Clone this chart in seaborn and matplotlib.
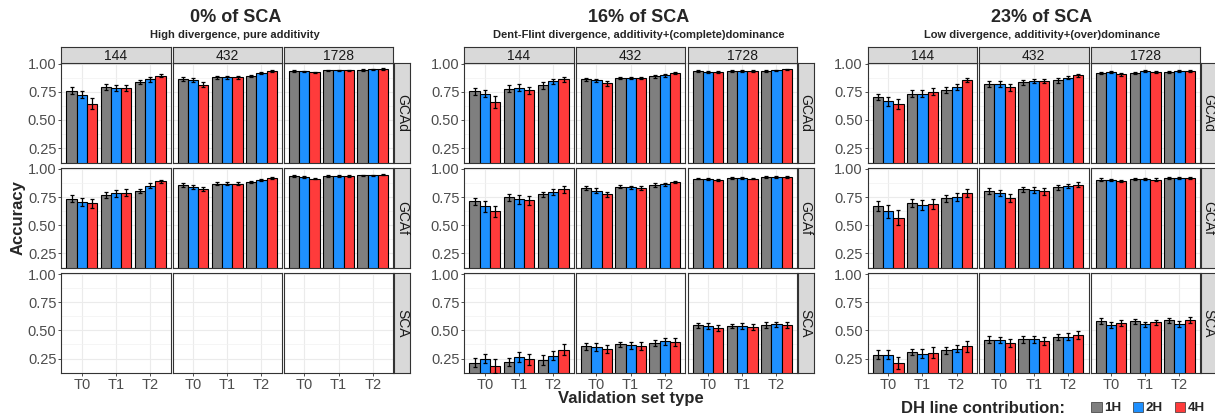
import numpy as np
import pandas as pd
import matplotlib
matplotlib.use("Agg")
import matplotlib.pyplot as plt
from matplotlib.patches import Patch
import seaborn as sns

scenarios = ["0% of SCA", "16% of SCA", "23% of SCA"]
subtitles = ["High divergence, pure additivity",
             "Dent-Flint divergence, additivity+(complete)dominance",
             "Low divergence, additivity+(over)dominance"]
traits = ["GCAd", "GCAf", "SCA"]
sizes = ["144", "432", "1728"]
val_types = ["T0", "T1", "T2"]
dh_levels = ["1H", "2H", "4H"]
dh_colors = ["#7f7f7f", "#1e90ff", "#ff3b3b"]

# accuracy, order: size (144, 432, 1728) -> validation type -> DH
acc_0_gcad = [0.759, 0.726, 0.646, 0.795, 0.786, 0.783, 0.836, 0.860, 0.893,
              0.863, 0.851, 0.815, 0.878, 0.878, 0.878, 0.893, 0.914, 0.932,
              0.935, 0.932, 0.923, 0.940, 0.940, 0.940, 0.946, 0.949, 0.955]
acc_0_gcaf = [0.735, 0.702, 0.693, 0.768, 0.783, 0.789, 0.804, 0.851, 0.890,
              0.857, 0.842, 0.824, 0.869, 0.869, 0.869, 0.881, 0.899, 0.920,
              0.935, 0.929, 0.914, 0.938, 0.938, 0.935, 0.943, 0.943, 0.949]
acc_0_sca = [np.nan] * 27
acc_16_gcad = [0.753, 0.735, 0.661, 0.777, 0.786, 0.762, 0.807, 0.842, 0.860,
               0.860, 0.851, 0.824, 0.872, 0.872, 0.872, 0.887, 0.896, 0.920,
               0.932, 0.929, 0.926, 0.935, 0.932, 0.935, 0.938, 0.940, 0.949]
acc_16_gcaf = [0.711, 0.667, 0.622, 0.747, 0.732, 0.720, 0.774, 0.795, 0.818,
               0.830, 0.807, 0.774, 0.842, 0.836, 0.830, 0.857, 0.863, 0.881,
               0.914, 0.908, 0.899, 0.920, 0.917, 0.914, 0.926, 0.926, 0.929]
acc_16_sca = [0.213, 0.246, 0.183, 0.222, 0.264, 0.243, 0.237, 0.273, 0.330,
              0.360, 0.351, 0.336, 0.375, 0.366, 0.360, 0.387, 0.402, 0.399,
              0.544, 0.538, 0.520, 0.541, 0.541, 0.529, 0.547, 0.553, 0.550]
acc_23_gcad = [0.705, 0.667, 0.640, 0.732, 0.735, 0.750, 0.765, 0.792, 0.857,
               0.821, 0.821, 0.789, 0.833, 0.848, 0.845, 0.851, 0.875, 0.896,
               0.917, 0.923, 0.905, 0.920, 0.932, 0.923, 0.926, 0.935, 0.935]
acc_23_gcaf = [0.673, 0.622, 0.568, 0.699, 0.682, 0.688, 0.738, 0.747, 0.783,
               0.801, 0.786, 0.744, 0.818, 0.812, 0.801, 0.836, 0.848, 0.860,
               0.905, 0.899, 0.890, 0.911, 0.911, 0.905, 0.917, 0.920, 0.920]
acc_23_sca = [0.282, 0.282, 0.210, 0.309, 0.294, 0.303, 0.324, 0.339, 0.357,
              0.417, 0.414, 0.387, 0.420, 0.420, 0.405, 0.441, 0.444, 0.456,
              0.583, 0.547, 0.565, 0.580, 0.553, 0.571, 0.589, 0.559, 0.592]

# error bar half widths, same order
err_0_gcad = [0.030, 0.028, 0.045, 0.025, 0.025, 0.025, 0.015, 0.020, 0.015,
              0.015, 0.018, 0.020, 0.012, 0.012, 0.012, 0.010, 0.010, 0.010,
              0.007, 0.007, 0.007, 0.007, 0.007, 0.007, 0.007, 0.007, 0.007]
err_0_gcaf = [0.030, 0.035, 0.040, 0.025, 0.030, 0.030, 0.020, 0.020, 0.015,
              0.015, 0.018, 0.018, 0.012, 0.012, 0.012, 0.010, 0.010, 0.010,
              0.007, 0.007, 0.007, 0.007, 0.007, 0.007, 0.007, 0.007, 0.007]
err_0_sca = [np.nan] * 27
err_16_gcad = [0.030, 0.035, 0.055, 0.030, 0.030, 0.035, 0.030, 0.025, 0.025,
               0.015, 0.015, 0.020, 0.012, 0.012, 0.012, 0.010, 0.010, 0.010,
               0.008, 0.008, 0.008, 0.008, 0.008, 0.008, 0.008, 0.008, 0.008]
err_16_gcaf = [0.030, 0.050, 0.050, 0.030, 0.040, 0.040, 0.025, 0.030, 0.030,
               0.015, 0.020, 0.025, 0.015, 0.015, 0.015, 0.015, 0.015, 0.010,
               0.008, 0.008, 0.008, 0.008, 0.008, 0.008, 0.008, 0.008, 0.008]
err_16_sca = [0.040, 0.040, 0.060, 0.035, 0.045, 0.050, 0.040, 0.040, 0.050,
              0.030, 0.035, 0.035, 0.025, 0.035, 0.035, 0.025, 0.030, 0.035,
              0.020, 0.025, 0.025, 0.020, 0.025, 0.025, 0.025, 0.025, 0.025]
err_23_gcad = [0.030, 0.040, 0.045, 0.030, 0.030, 0.030, 0.025, 0.030, 0.020,
               0.025, 0.025, 0.030, 0.025, 0.020, 0.020, 0.025, 0.015, 0.010,
               0.010, 0.010, 0.010, 0.010, 0.010, 0.010, 0.010, 0.010, 0.010]
err_23_gcaf = [0.045, 0.055, 0.070, 0.035, 0.045, 0.045, 0.030, 0.035, 0.035,
               0.025, 0.030, 0.035, 0.020, 0.025, 0.030, 0.020, 0.020, 0.020,
               0.010, 0.010, 0.010, 0.010, 0.010, 0.010, 0.010, 0.010, 0.010]
err_23_sca = [0.040, 0.040, 0.050, 0.030, 0.040, 0.045, 0.030, 0.035, 0.045,
              0.030, 0.030, 0.035, 0.030, 0.030, 0.035, 0.030, 0.030, 0.035,
              0.025, 0.025, 0.025, 0.025, 0.025, 0.025, 0.025, 0.025, 0.025]

acc = {(scenarios[0], "GCAd"): (acc_0_gcad, err_0_gcad),
       (scenarios[0], "GCAf"): (acc_0_gcaf, err_0_gcaf),
       (scenarios[0], "SCA"): (acc_0_sca, err_0_sca),
       (scenarios[1], "GCAd"): (acc_16_gcad, err_16_gcad),
       (scenarios[1], "GCAf"): (acc_16_gcaf, err_16_gcaf),
       (scenarios[1], "SCA"): (acc_16_sca, err_16_sca),
       (scenarios[2], "GCAd"): (acc_23_gcad, err_23_gcad),
       (scenarios[2], "GCAf"): (acc_23_gcaf, err_23_gcaf),
       (scenarios[2], "SCA"): (acc_23_sca, err_23_sca)}

rows = []
for (scen, trait), (vals, errs) in acc.items():
    i = 0
    for size in sizes:
        for v in val_types:
            for dh in dh_levels:
                rows.append(dict(scenario=scen, trait=trait, size=size, val=v,
                                 dh=dh, acc=vals[i], err=errs[i]))
                i += 1
df = pd.DataFrame(rows)

sns.set_theme(style="white")
plt.rcParams["font.family"] = ["Liberation Sans", "DejaVu Sans"]

W, H = 1215, 416
fig = plt.figure(figsize=(W / 100, H / 100), dpi=100)


def rect(x0, y0, w, h):
    return [x0 / W, 1 - (y0 + h) / H, w / W, h / H]


block_lefts = [[61.3, 172.5, 283.8], [464.3, 575.9, 687.5], [867.7, 979.0, 1090.5]]
pw = 109.5
row_tops = [63.0, 168.2, 273.4]
ph = 100.0
strip_h = 16.0
strip_w = 16.0
border = "#333333"

for b, scen in enumerate(scenarios):
    lefts = block_lefts[b]
    for r, trait in enumerate(traits):
        for c, size in enumerate(sizes):
            ax = fig.add_axes(rect(lefts[c], row_tops[r], pw, ph))
            sub = df[(df.scenario == scen) & (df.trait == trait) & (df["size"] == size)]
            if sub["acc"].notna().any():
                sns.barplot(data=sub, x="val", y="acc", hue="dh", order=val_types,
                            hue_order=dh_levels, palette=dh_colors, width=0.9,
                            saturation=1, edgecolor="black", linewidth=0.8,
                            errorbar=None, legend=False, ax=ax, zorder=2)
                for k, dh in enumerate(dh_levels):
                    part = sub[sub.dh == dh].set_index("val").loc[val_types]
                    xs = [bar.get_x() + bar.get_width() / 2 for bar in ax.containers[k]]
                    ax.errorbar(xs, part["acc"], yerr=part["err"], fmt="none",
                                ecolor="black", elinewidth=0.9, capsize=1.6,
                                capthick=0.9, zorder=3)
            else:
                ax.set_xticks(range(len(val_types)))
                ax.set_xticklabels(val_types)
            ax.set_xlim(-0.6, 2.6)
            ax.set_ylim(0.118, 1.006)
            ax.set_xlabel("")
            ax.set_ylabel("")
            ax.set_facecolor("white")
            ax.set_yticks([0.25, 0.50, 0.75, 1.00])
            ax.set_yticks([0.125, 0.375, 0.625, 0.875], minor=True)
            ax.set_yticklabels(["0.25", "0.50", "0.75", "1.00"])
            ax.grid(True, which="major", color="#ebebeb", linewidth=0.8)
            ax.grid(True, which="minor", axis="y", color="#f2f2f2", linewidth=0.5)
            ax.set_axisbelow(True)
            for sp in ax.spines.values():
                sp.set_color(border)
                sp.set_linewidth(0.8)
            ax.tick_params(which="minor", length=0)
            ax.tick_params(axis="y", which="major", labelsize=10.5, labelcolor="#4d4d4d",
                           length=2.5 if c == 0 else 0, width=0.6, color=border, pad=1,
                           labelleft=(c == 0), left=True)
            ax.tick_params(axis="x", which="major", labelsize=10.5, labelcolor="#4d4d4d",
                           length=2.5 if r == 2 else 0, width=0.6, color=border, pad=0.5,
                           labelbottom=(r == 2), bottom=True)

            if r == 0:
                sax = fig.add_axes(rect(lefts[c], row_tops[0] - strip_h, pw, strip_h))
                sax.set_facecolor("#d9d9d9")
                sax.set_xticks([])
                sax.set_yticks([])
                for sp in sax.spines.values():
                    sp.set_color(border)
                    sp.set_linewidth(0.8)
                sax.text(0.5, 0.45, size, ha="center", va="center", fontsize=10,
                         color="#1a1a1a", transform=sax.transAxes)
            if c == 2:
                sax = fig.add_axes(rect(lefts[2] + pw + 0.7, row_tops[r], strip_w, ph))
                sax.set_facecolor("#d9d9d9")
                sax.set_xticks([])
                sax.set_yticks([])
                for sp in sax.spines.values():
                    sp.set_color(border)
                    sp.set_linewidth(0.8)
                sax.text(0.5, 0.5, trait, ha="center", va="center", fontsize=10,
                         color="#1a1a1a", rotation=-90, transform=sax.transAxes)

    xc = (lefts[0] + lefts[2] + pw + strip_w) / 2
    fig.text(xc / W, 1 - 18 / H, scen, ha="center", va="center",
             fontsize=13, fontweight="bold")
    fig.text(xc / W, 1 - 35.5 / H, subtitles[b], ha="center", va="center",
             fontsize=8, fontweight="bold")

fig.text(18 / W, 1 - 218 / H, "Accuracy", rotation=90, ha="center", va="center",
         fontsize=12, fontweight="bold")
mid = (block_lefts[1][0] + block_lefts[1][2] + pw) / 2
fig.text(mid / W, 1 - 399 / H, "Validation set type", ha="center", va="center",
         fontsize=12, fontweight="bold")

fig.text(901 / W, 1 - 408.5 / H, "DH line contribution:", ha="left", va="center",
         fontsize=12, fontweight="bold")
handles = [Patch(facecolor=col, edgecolor="#333333", linewidth=0.5) for col in dh_colors]
fig.legend(handles, dh_levels, loc="center left", bbox_to_anchor=(1091 / W, 1 - 408 / H),
           ncol=3, frameon=False, handlelength=0.8, handleheight=0.8,
           handletextpad=0.15, columnspacing=0.9, borderaxespad=0, borderpad=0,
           prop={"weight": "bold", "size": 9.6})

fig.savefig("out.png", dpi=100)
